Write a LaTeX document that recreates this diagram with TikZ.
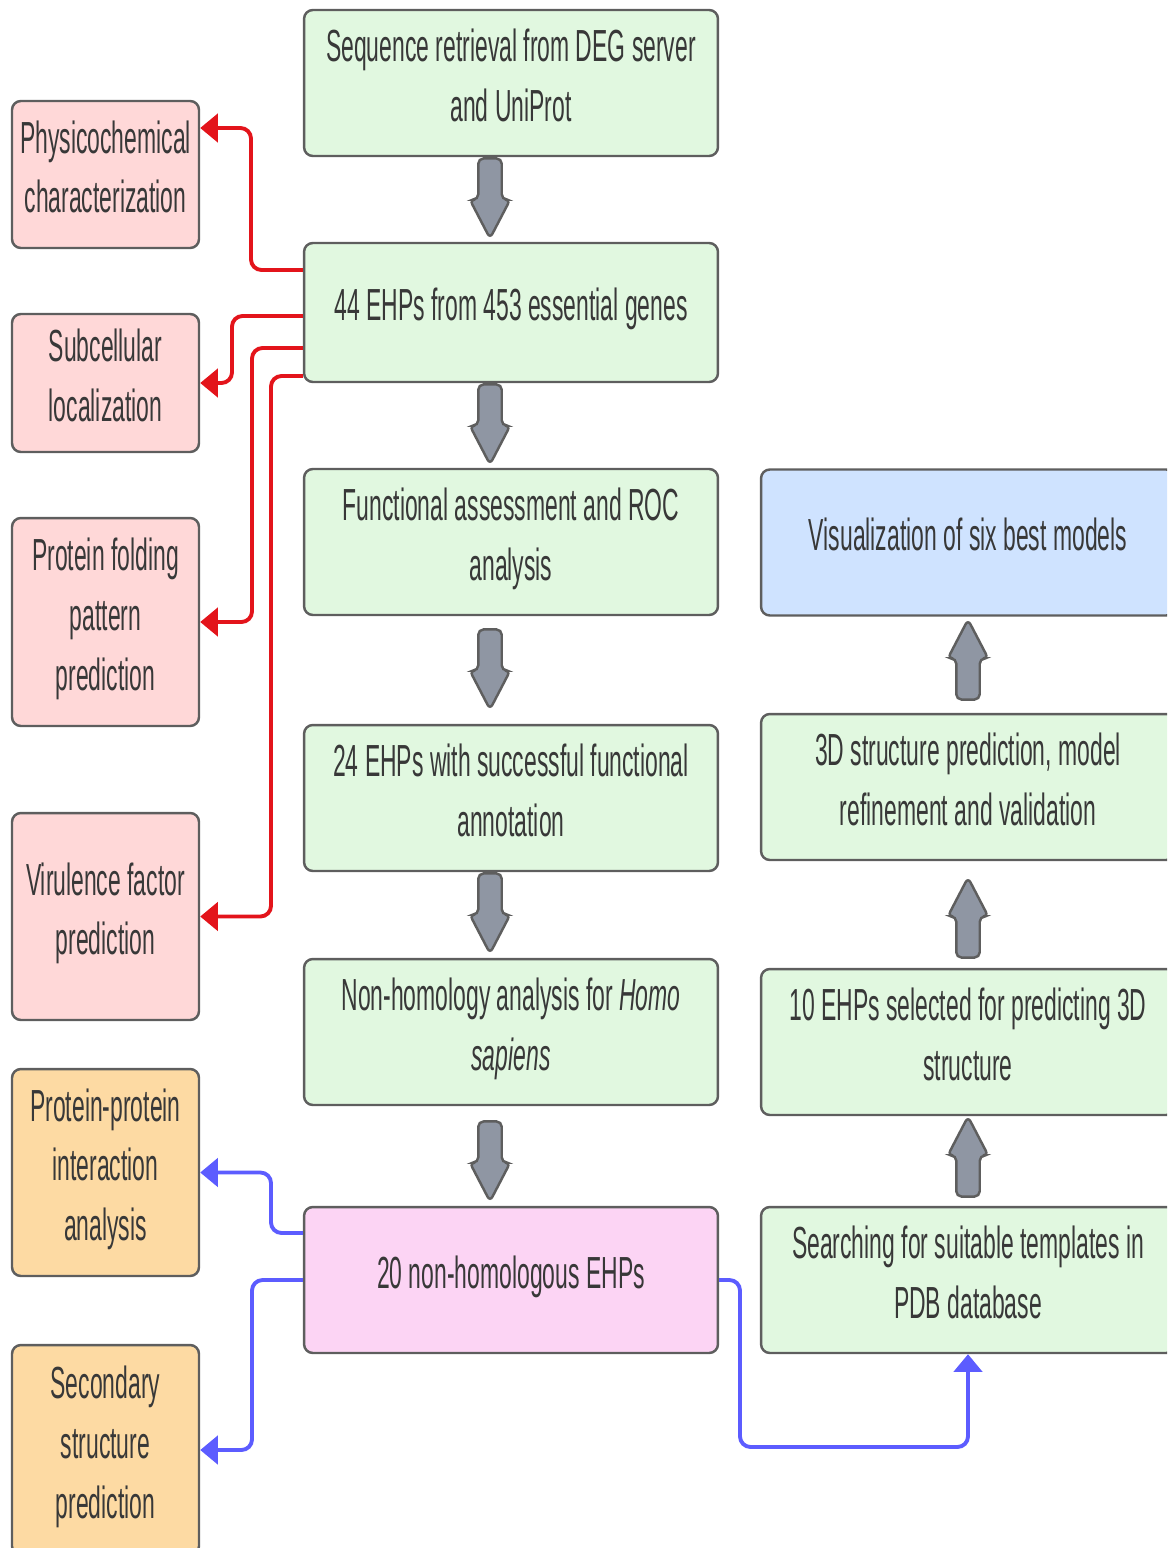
\documentclass[tikz,border=0pt]{standalone}
\usepackage{fontspec}
\setmainfont[FakeStretch=0.51]{Liberation Sans}
\usetikzlibrary{shapes.arrows,arrows.meta,calc}

\definecolor{boxgreen}{HTML}{E1F8E0}
\definecolor{boxred}{HTML}{FFD8D8}
\definecolor{boxorange}{HTML}{FDDAA3}
\definecolor{boxpink}{HTML}{FCD4F4}
\definecolor{boxblue}{HTML}{CFE3FF}
\definecolor{boxline}{HTML}{5E5E5E}
\definecolor{textgray}{HTML}{383838}
\definecolor{linered}{HTML}{E3141B}
\definecolor{lineblue}{HTML}{5C5CFF}
\definecolor{arrowgray}{HTML}{8F96A3}

\tikzset{
	box/.style={draw=boxline, line width=1.4pt, rounded corners=5pt, text=textgray, align=center, font=\fontsize{25.6}{34}\selectfont, inner sep=2pt, text depth=9pt},
	wide/.style={box, minimum width=8.28cm, minimum height=2.92cm},
	side/.style={box, minimum width=3.74cm},
	redline/.style={draw=linered, line width=2.2pt, rounded corners=6pt, -{Triangle[length=10pt,width=16pt]}},
	blueline/.style={draw=lineblue, line width=2.2pt, rounded corners=6pt, -{Triangle[length=10pt,width=16pt]}},
	fat/.style={single arrow, draw=boxline, fill=arrowgray, line width=1.4pt, rounded corners=3pt, minimum height=1.6cm, single arrow head extend=0.17cm, single arrow tip angle=55, inner xsep=0pt, inner ysep=0.21cm},
	fatdown/.style={fat, rotate=-90, anchor=tail},
	fatup/.style={fat, rotate=90, anchor=tail},
}

\begin{document}
\begin{tikzpicture}[x=0.02cm, y=-0.02cm]
		\clip (0,0) rectangle (1167,1548);
		
		\node[wide, fill=boxgreen] (b1) at (511,83) {Sequence retrieval from DEG server\\and UniProt};
		\node[wide, fill=boxgreen, minimum height=2.78cm] (b2) at (511,312.5) {44 EHPs from 453 essential genes};
		\node[wide, fill=boxgreen] (b3) at (511,542) {Functional assessment and ROC\\analysis};
		\node[wide, fill=boxgreen] (b4) at (511,798) {24 EHPs with successful functional\\annotation};
		\node[wide, fill=boxgreen] (b5) at (511,1032) {Non-homology analysis for \textit{Homo}\\\textit{sapiens}};
		\node[wide, fill=boxpink] (b6) at (511,1280) {20 non-homologous EHPs};
		
		\node[wide, fill=boxblue] (r1) at (968,542.5) {Visualization of six best models};
		\node[wide, fill=boxgreen] (r2) at (968,787) {3D structure prediction, model\\refinement and validation};
		\node[wide, fill=boxgreen] (r3) at (968,1042) {10 EHPs selected for predicting 3D\\structure};
		\node[wide, fill=boxgreen] (r4) at (968,1280) {Searching for suitable templates in\\PDB database};
		
		\node[side, fill=boxred, minimum height=2.94cm] (l1) at (105.5,174.5) {Physicochemical\\characterization};
		\node[side, fill=boxred, minimum height=2.76cm] (l2) at (105.5,383) {Subcellular\\localization};
		\node[side, fill=boxred, minimum height=4.16cm] (l3) at (105.5,622) {Protein folding\\pattern\\prediction};
		\node[side, fill=boxred, minimum height=4.14cm] (l4) at (105.5,916.5) {Virulence factor\\prediction};
		\node[side, fill=boxorange, minimum height=4.14cm] (l5) at (105.5,1172.5) {Protein-protein\\interaction\\analysis};
		\node[side, fill=boxorange, minimum height=4.2cm] (l6) at (105.5,1450) {Secondary\\structure\\prediction};
		
		\node[fatdown] (a12) at (b1.south -| 490,0) {};
		\node[fatdown] (a23) at (b2.south -| 490,0) {};
		\node[fatdown] (a34) at ($(b3.south -| 490,0)+(0,12)$) {};
		\node[fatdown] (a45) at (b4.south -| 490,0) {};
		\node[fatdown] (a56) at ($(b5.south -| 490,0)+(0,14)$) {};
		\node[fatup] (a43) at ($(r4.north)+(0,-8)$) {};
		\node[fatup] (a32) at ($(r3.north)+(0,-9)$) {};
		\node[fatup] (a21) at ($(r2.north)+(0,-12)$) {};
		
		\draw[redline] (b2.west |- 0,270) -- (251,270) |- (l1.east |- 0,128);
		\draw[redline] (b2.west |- 0,316) -- (232,316) |- (l2.east);
		\draw[redline] (b2.west |- 0,348) -- (252,348) |- (l3.east);
		\draw[redline] (b2.west |- 0,376) -- (271,376) |- (l4.east);
		
		\draw[blueline] (b6.west |- 0,1233) -- (271,1233) |- (l5.east);
		\draw[blueline] (b6.west |- 0,1280) -- (252,1280) |- (l6.east);
		\draw[blueline] (b6.east) -- (740,1280) |- (968,1447) -- (r4.south);
\end{tikzpicture}
\end{document}
